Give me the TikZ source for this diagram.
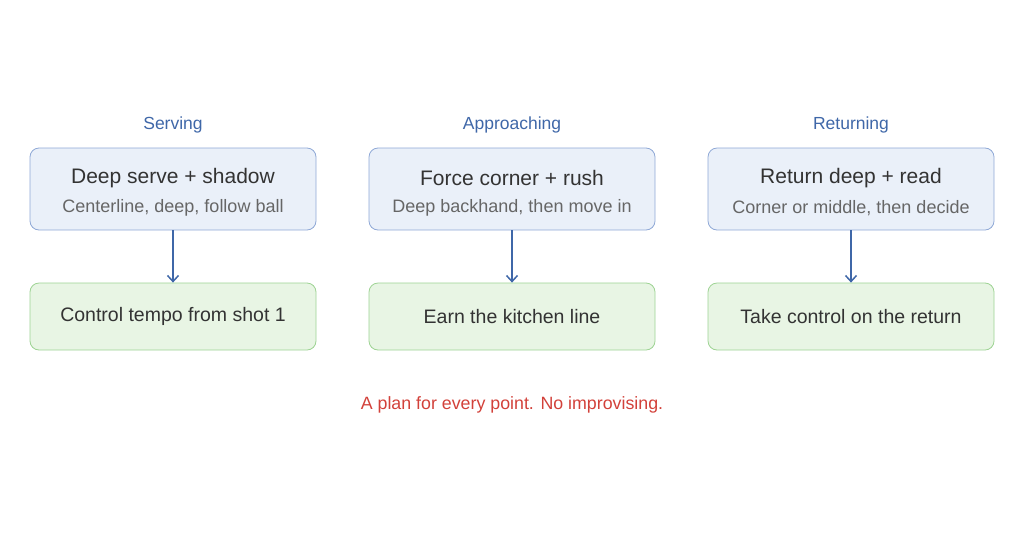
\documentclass[tikz,border=0pt]{standalone}
\usepackage{fontspec}
\setmainfont{Liberation Sans}
\usetikzlibrary{arrows.meta}
\definecolor{bfill}{HTML}{EAF0F9}
\definecolor{bdraw}{HTML}{8FA8D6}
\definecolor{gfill}{HTML}{E8F5E4}
\definecolor{gdraw}{HTML}{9DD393}
\definecolor{head}{HTML}{3F67A8}
\definecolor{txt}{HTML}{333333}
\definecolor{sub}{HTML}{666666}
\definecolor{red}{HTML}{D2413A}
\begin{document}
\begin{tikzpicture}[x=1pt,y=-1pt,
 top/.style={draw=bdraw,fill=bfill,rounded corners=9pt,minimum width=286pt,minimum height=82pt,line width=0.8pt},
 bot/.style={draw=gdraw,fill=gfill,rounded corners=9pt,minimum width=286pt,minimum height=67pt,line width=0.8pt,font=\fontsize{19.5}{23}\selectfont,text=txt},
 lab/.style={text=head,font=\fontsize{17.5}{21}\selectfont},
 arr/.style={draw=head,line width=1.5pt,-{Straight Barb[length=6pt,width=11pt]}}]
\useasboundingbox (0,0) rectangle (1024,536);
\foreach \x/\n/\l/\a/\b/\c in {173/s/Serving/Deep serve + shadow/{Centerline, deep, follow ball}/Control tempo from shot 1,
 512/p/Approaching/Force corner + rush/{Deep backhand, then move in}/Earn the kitchen line,
 851/r/Returning/Return deep + read/{Corner or middle, then decide}/Take control on the return}{
 \node[lab] (\n l) at (\x,125) {\l};
 \node[top] (\n t) at (\x,189) {};
 \node[text=txt,font=\fontsize{21}{25}\selectfont] (\n a) at (\x,178) {\a};
 \node[text=sub,font=\fontsize{18}{21}\selectfont] (\n b) at (\x,208) {\b};
 \node[bot] (\n g) at (\x,316.5) {\c};
 \draw[arr] (\n t) -- (\n g);
}
\node[text=red,font=\fontsize{17.8}{21}\selectfont] (note) at (512,405) {A plan for every point. No improvising.};
\end{tikzpicture}
\end{document}
